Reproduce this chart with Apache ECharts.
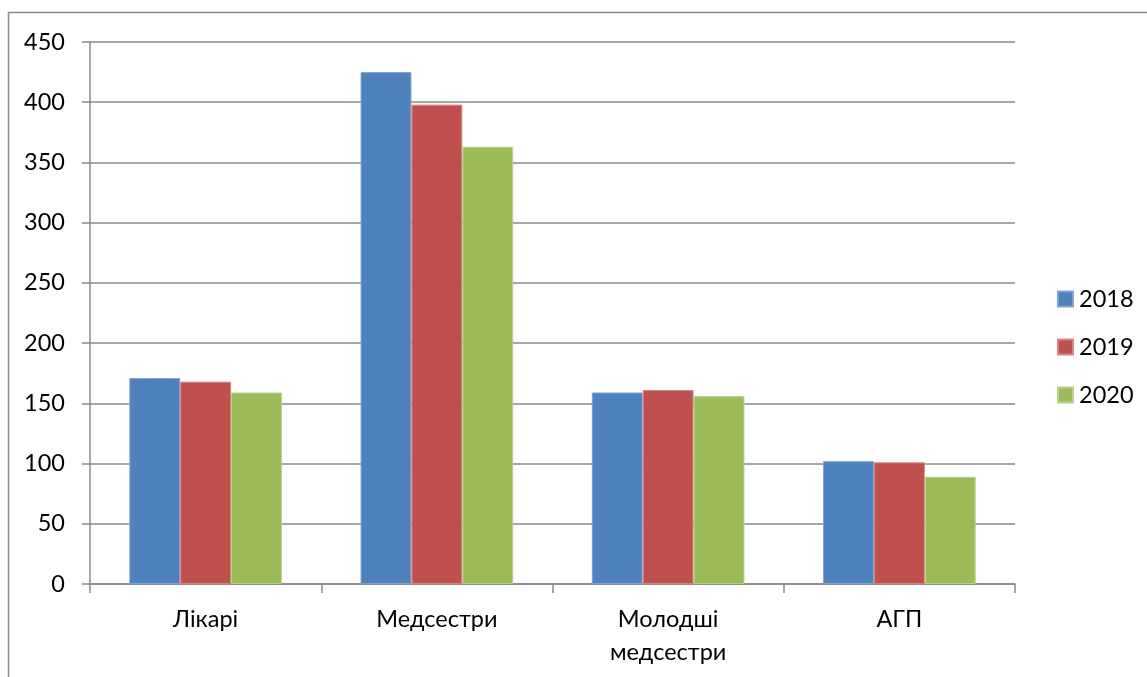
<!DOCTYPE html>
<html>
<head>
<meta charset="utf-8">
<script src="https://cdn.jsdelivr.net/npm/echarts@6/dist/echarts.min.js"></script>
<style>
  html, body { margin: 0; padding: 0; background: #fff; }
  #chart { width: 1147px; height: 677px; }
</style>
</head>
<body>
<div id="chart"></div>
<script>
// Staff headcount by category, 2018–2020
const categories = ['Лікарі', 'Медсестри', 'Молодші\nмедсестри', 'АГП'];
const years = ['2018', '2019', '2020'];
const values2018 = [171, 425, 159, 102];
const values2019 = [168, 398, 161, 101];
const values2020 = [159, 363, 156, 89];
const yTicks = [0, 50, 100, 150, 200, 250, 300, 350, 400, 450];

const colors = ['#4F81BD', '#C0504D', '#9BBB59'];
const edgeColors = ['#7FA3D1', '#D48583', '#B9D08C'];
const seriesValues = [values2018, values2019, values2020];
const fontFamily = 'Lato, Open Sans, sans-serif';
const fontSize = 23.5;
const gray = '#8a8a8a';

const chart = echarts.init(document.getElementById('chart'), null, { renderer: 'canvas' });

chart.setOption({
  animation: false,
  backgroundColor: '#fff',
  graphic: [{
    type: 'rect',
    shape: { x: 8.5, y: 12.5, width: 1300, height: 800 },
    style: { fill: 'none', stroke: gray, lineWidth: 1.5 },
    silent: true,
    z: -1
  }],
  grid: { left: 90, right: 132, top: 42, bottom: 93, containLabel: false },
  legend: {
    orient: 'vertical',
    left: 1057,
    top: 287,
    padding: 0,
    itemWidth: 15,
    itemHeight: 15,
    itemGap: 24,
    icon: 'rect',
    textStyle: { fontSize: fontSize, lineHeight: 20, color: '#000', fontFamily: fontFamily, padding: [0, 0, 0, 1] },
    data: years
  },
  xAxis: {
    type: 'category',
    data: categories,
    axisLine: { lineStyle: { color: gray, width: 1.5 } },
    axisTick: { show: true, alignWithLabel: false, length: 9, lineStyle: { color: gray, width: 1.5 } },
    axisLabel: { fontSize: fontSize, color: '#000', fontFamily: fontFamily, margin: 19, lineHeight: 33 }
  },
  yAxis: {
    type: 'value',
    min: yTicks[0],
    max: yTicks[yTicks.length - 1],
    interval: 50,
    axisLine: { show: true, lineStyle: { color: gray, width: 1.5 } },
    axisTick: { show: true, length: 8, lineStyle: { color: gray, width: 1.5 } },
    splitLine: { lineStyle: { color: gray, width: 1.5 } },
    axisLabel: { fontSize: fontSize, color: '#000', fontFamily: fontFamily, margin: 25 }
  },
  series: years.map((y, i) => ({
    name: y,
    type: 'bar',
    data: seriesValues[i],
    barGap: '0%',
    barCategoryGap: '34%',
    itemStyle: { color: colors[i], borderColor: edgeColors[i], borderWidth: 1 }
  }))
});
</script>
</body>
</html>
